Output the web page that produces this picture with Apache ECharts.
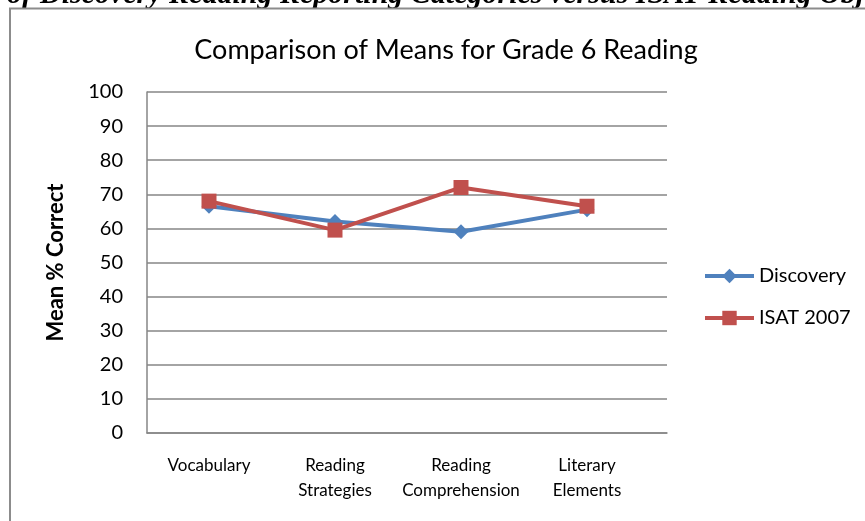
<!DOCTYPE html>
<html>
<head>
<meta charset="utf-8">
<script src="https://cdn.jsdelivr.net/npm/echarts@6/dist/echarts.min.js"></script>
<style>
  html, body { margin: 0; padding: 0; background: #fff; }
  #chart { width: 865px; height: 521px; }
</style>
</head>
<body>
<div id="chart"></div>
<script>
// Reporting categories along the x axis
const categories = ['Vocabulary', 'Reading\nStrategies', 'Reading\nComprehension', 'Literary\nElements'];
// Mean percent correct per category
const discovery = [66.5, 62, 59, 65.5];
const isat2007 = [68, 59.5, 72, 66.5];
// Y axis range and step
const yMin = 0;
const yMax = 100;
const yStep = 10;

const FONT = 'Lato, "Open Sans", sans-serif';
const AXIS_GRAY = '#868686';
const CAPTION_FONT = 'italic bold 30px "Liberation Serif", serif';

const chart = echarts.init(document.getElementById('chart'), null, { renderer: 'canvas' });

chart.setOption({
  backgroundColor: '#ffffff',
  animation: false,
  title: {
    text: 'Comparison of Means for Grade 6 Reading',
    left: 441,
    top: 32,
    textAlign: 'center',
    textStyle: { fontFamily: FONT, fontSize: 27, fontWeight: 'normal', color: '#000' }
  },
  legend: {
    orient: 'vertical',
    left: 698,
    top: 261,
    itemWidth: 49,
    itemHeight: 18,
    itemGap: 22,
    lineStyle: { width: 4 },
    textStyle: { fontFamily: FONT, fontSize: 20, color: '#000' },
    data: ['Discovery', 'ISAT 2007']
  },
  grid: [
    // data grid: category bands
    { left: 146, top: 92, width: 504, height: 341 },
    // frame grid: gridlines and value axis
    { left: 147, top: 92, width: 520, height: 341 }
  ],
  xAxis: [
    {
      type: 'category',
      gridIndex: 0,
      data: categories,
      boundaryGap: true,
      axisLine: { show: false },
      axisTick: { show: false },
      axisLabel: {
        fontFamily: FONT, fontSize: 17, color: '#000', lineHeight: 25, margin: 20, interval: 0
      },
      splitLine: { show: false }
    },
    {
      type: 'value',
      gridIndex: 1,
      min: 0,
      max: 1,
      axisLine: { show: true, onZero: false, lineStyle: { color: AXIS_GRAY, width: 1.5 } },
      axisTick: { show: false },
      axisLabel: { show: false },
      splitLine: { show: false }
    }
  ],
  yAxis: [
    {
      type: 'value',
      gridIndex: 0,
      min: yMin, max: yMax, interval: yStep,
      show: false,
      splitLine: { show: false }
    },
    {
      type: 'value',
      gridIndex: 1,
      min: yMin, max: yMax, interval: yStep,
      name: 'Mean % Correct',
      nameLocation: 'middle',
      nameRotate: 90,
      nameGap: 80,
      nameTextStyle: { fontFamily: FONT, fontSize: 22, fontWeight: 'bold', color: '#000' },
      axisLine: { show: true, lineStyle: { color: AXIS_GRAY, width: 1.5 } },
      axisTick: { show: false },
      axisLabel: { fontFamily: FONT, fontSize: 20, color: '#000', margin: 24 },
      splitLine: { show: true, lineStyle: { color: AXIS_GRAY, width: 1.5 } }
    }
  ],
  series: [
    {
      name: 'Discovery',
      type: 'line',
      xAxisIndex: 0,
      yAxisIndex: 0,
      data: discovery,
      symbol: 'diamond',
      symbolSize: 15,
      lineStyle: { color: '#4F81BD', width: 4 },
      itemStyle: { color: '#4F81BD' },
      z: 3
    },
    {
      name: 'ISAT 2007',
      type: 'line',
      xAxisIndex: 0,
      yAxisIndex: 0,
      data: isat2007,
      symbol: 'rect',
      symbolSize: 15,
      lineStyle: { color: '#C0504D', width: 4 },
      itemStyle: { color: '#C0504D' },
      z: 4
    }
  ],
  graphic: [
    // running caption above the chart frame
    {
      type: 'text',
      x: 32,
      y: 10,
      style: {
        text: 'Comparison of',
        align: 'right',
        verticalAlign: 'bottom',
        font: CAPTION_FONT,
        fill: '#000'
      }
    },
    {
      type: 'text',
      x: 40,
      y: 10,
      style: {
        text: 'Discovery Reading Reporting Categories versus ISAT Reading Objectives',
        align: 'left',
        verticalAlign: 'bottom',
        font: CAPTION_FONT,
        fill: '#000'
      }
    },
    // chart frame edges
    {
      type: 'polyline',
      shape: { points: [[10, 521], [10, 8.5], [865, 8.5]] },
      style: { stroke: '#8c8c8c', lineWidth: 2, fill: null }
    }
  ]
});
</script>
</body>
</html>
